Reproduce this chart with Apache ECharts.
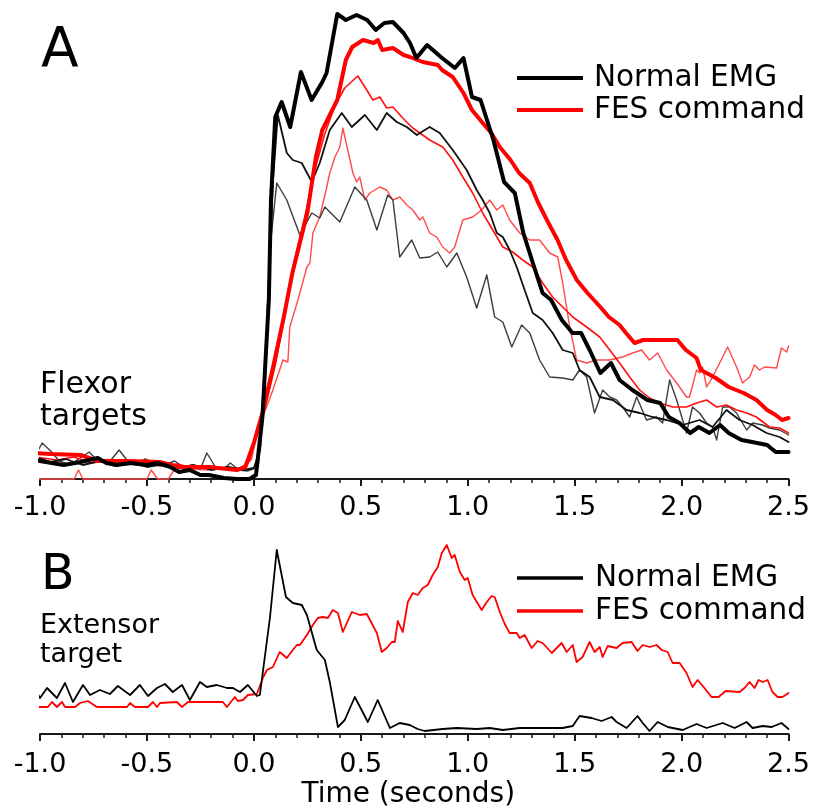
<!DOCTYPE html>
<html>
<head>
<meta charset="utf-8">
<script src="https://cdn.jsdelivr.net/npm/echarts@6/dist/echarts.min.js"></script>
<style>
html,body{margin:0;padding:0;background:#fff;}
#chart{width:813px;height:811px;}
</style>
</head>
<body>
<div id="chart"></div>
<script>
// ---------- DATA (time in seconds, amplitude in arbitrary units) ----------
const timeTicks = [-1.0, -0.5, 0.0, 0.5, 1.0, 1.5, 2.0, 2.5];

// Panel A – flexor targets
const flexNormalMean = [[-1.02,19],[-1.00,18],[-0.89,14],[-0.81,17],[-0.73,21],[-0.69,16],[-0.64,14],[-0.58,16],[-0.50,14],[-0.45,16],[-0.39,12],[-0.35,7],[-0.30,9],[-0.25,4],[-0.21,4],[-0.14,1],[-0.08,0],[-0.02,0],[0.01,4],[0.04,62],[0.07,179],[0.08,279],[0.10,362],[0.13,377],[0.17,352],[0.22,407],[0.27,379],[0.32,397],[0.34,406],[0.39,465],[0.43,459],[0.48,464],[0.53,459],[0.57,449],[0.61,456],[0.65,457],[0.70,446],[0.73,436],[0.76,421],[0.81,434],[0.88,421],[0.94,411],[0.98,421],[1.02,382],[1.06,379],[1.12,339],[1.17,297],[1.22,286],[1.26,246],[1.30,219],[1.35,186],[1.39,179],[1.44,159],[1.49,146],[1.53,146],[1.57,129],[1.62,106],[1.67,116],[1.71,99],[1.77,89],[1.84,79],[1.90,76],[1.94,62],[1.99,56],[2.04,46],[2.08,52],[2.13,46],[2.18,54],[2.22,46],[2.28,39],[2.33,37],[2.40,34],[2.44,27],[2.50,27]];
const flexFesMean = [[-1.02,26],[-0.95,25],[-0.81,24],[-0.73,18],[-0.58,18],[-0.44,17],[-0.35,12],[-0.21,12],[-0.08,9],[-0.04,12],[0.00,36],[0.04,66],[0.09,112],[0.14,162],[0.18,206],[0.25,266],[0.29,322],[0.32,349],[0.39,379],[0.43,419],[0.46,432],[0.51,439],[0.56,436],[0.58,439],[0.60,429],[0.65,431],[0.70,424],[0.73,422],[0.79,417],[0.86,414],[0.88,409],[0.93,402],[0.98,386],[1.02,369],[1.07,356],[1.11,346],[1.15,332],[1.20,319],[1.24,306],[1.29,296],[1.33,276],[1.37,259],[1.42,239],[1.46,219],[1.51,199],[1.56,186],[1.62,172],[1.66,162],[1.71,154],[1.74,146],[1.78,136],[1.82,139],[1.88,139],[1.98,139],[2.02,129],[2.07,121],[2.09,109],[2.16,101],[2.22,92],[2.29,86],[2.35,79],[2.40,69],[2.44,64],[2.47,59],[2.50,61]];
const flexNormalTrial1 = [[-1.02,22],[-0.95,17],[-0.88,20],[-0.80,14],[-0.72,18],[-0.65,13],[-0.58,17],[-0.50,12],[-0.42,15],[-0.35,11],[-0.28,14],[-0.20,9],[-0.12,12],[-0.05,9],[0.00,11],[0.03,30],[0.06,150],[0.09,300],[0.112,364],[0.154,326],[0.182,319],[0.224,316],[0.271,297],[0.308,316],[0.355,349],[0.411,366],[0.458,352],[0.519,364],[0.575,349],[0.621,366],[0.668,357],[0.715,352],[0.762,344],[0.822,352],[0.869,346],[0.930,329],[0.995,309],[1.042,289],[1.070,279],[1.103,266],[1.136,246],[1.164,242],[1.196,229],[1.229,212],[1.266,189],[1.304,166],[1.350,159],[1.397,146],[1.444,129],[1.491,126],[1.523,109],[1.570,102],[1.617,82],[1.678,79],[1.743,69],[1.804,66],[1.864,62],[1.930,59],[2.005,54],[2.084,59],[2.145,52],[2.210,69],[2.271,59],[2.332,54],[2.397,46],[2.458,42],[2.50,37]];
const flexNormalTrial2 = [[-1.02,24],[-0.99,36],[-0.95,28],[-0.91,18],[-0.86,14],[-0.82,20],[-0.77,27],[-0.73,18],[-0.68,16],[-0.63,29],[-0.59,18],[-0.55,14],[-0.51,20],[-0.46,16],[-0.42,14],[-0.37,18],[-0.33,12],[-0.29,14],[-0.25,10],[-0.22,26],[-0.18,12],[-0.14,10],[-0.11,16],[-0.07,9],[-0.03,8],[0.02,12],[0.05,80],[0.08,240],[0.107,296],[0.154,279],[0.215,244],[0.271,266],[0.308,261],[0.332,272],[0.402,257],[0.472,292],[0.528,279],[0.575,249],[0.626,284],[0.650,279],[0.682,222],[0.738,239],[0.776,221],[0.822,222],[0.860,227],[0.902,212],[0.949,226],[0.995,202],[1.042,171],[1.089,204],[1.126,162],[1.164,157],[1.206,132],[1.252,154],[1.290,146],[1.336,119],[1.383,102],[1.444,101],[1.491,99],[1.523,109],[1.556,102],[1.593,66],[1.631,89],[1.664,82],[1.696,79],[1.724,72],[1.757,62],[1.790,82],[1.836,59],[1.883,62],[1.911,56],[1.944,99],[1.977,79],[2.023,46],[2.051,72],[2.084,66],[2.117,56],[2.145,52],[2.164,39],[2.192,72],[2.224,72],[2.257,66],[2.304,49],[2.332,56],[2.379,54],[2.411,51],[2.458,49],[2.50,44]];
const flexFesTrial1 = [[-1.02,22],[-0.92,19],[-0.84,22],[-0.76,16],[-0.68,19],[-0.60,14],[-0.52,17],[-0.44,13],[-0.36,15],[-0.28,11],[-0.20,13],[-0.12,10],[-0.06,11],[-0.02,18],[0.005,39],[0.05,69],[0.10,114],[0.145,164],[0.19,219],[0.24,264],[0.285,309],[0.33,344],[0.38,374],[0.425,391],[0.486,403],[0.528,389],[0.556,379],[0.589,382],[0.621,371],[0.650,372],[0.696,361],[0.743,351],[0.822,339],[0.883,332],[0.930,319],[0.977,302],[1.023,286],[1.070,266],[1.117,249],[1.164,232],[1.210,227],[1.257,219],[1.304,212],[1.350,196],[1.397,182],[1.444,172],[1.491,162],[1.556,152],[1.617,142],[1.664,129],[1.710,116],[1.757,102],[1.804,89],[1.850,81],[1.897,76],[1.958,72],[2.023,72],[2.070,76],[2.117,79],[2.164,72],[2.210,74],[2.257,69],[2.304,66],[2.350,62],[2.411,52],[2.458,51],[2.50,46]];
const flexFesTrial2 = [[-1.02,0],[-0.84,0],[-0.82,9],[-0.80,0],[-0.50,0],[-0.48,9],[-0.45,0],[-0.40,0],[-0.37,10],[-0.34,8],[-0.28,10],[-0.22,9],[-0.16,11],[-0.10,9],[-0.05,11],[-0.01,20],[0.014,46],[0.089,89],[0.136,119],[0.159,117],[0.168,152],[0.206,179],[0.248,212],[0.262,216],[0.276,246],[0.308,262],[0.341,292],[0.355,306],[0.379,322],[0.402,332],[0.416,351],[0.439,329],[0.463,306],[0.481,297],[0.495,302],[0.519,279],[0.542,286],[0.589,292],[0.621,289],[0.650,279],[0.682,282],[0.715,274],[0.743,269],[0.776,259],[0.790,262],[0.822,246],[0.855,242],[0.883,232],[0.916,226],[0.939,232],[0.977,259],[1.023,262],[1.065,269],[1.103,279],[1.136,269],[1.164,274],[1.196,259],[1.243,246],[1.290,239],[1.336,239],[1.383,226],[1.421,222],[1.444,196],[1.477,152],[1.509,119],[1.556,116],[1.603,119],[1.664,119],[1.724,122],[1.771,126],[1.813,129],[1.850,119],[1.888,126],[1.930,109],[1.977,96],[2.023,82],[2.037,82],[2.070,109],[2.084,106],[2.098,112],[2.117,92],[2.145,102],[2.178,116],[2.215,132],[2.257,112],[2.285,96],[2.318,102],[2.341,114],[2.364,109],[2.388,112],[2.444,111],[2.467,131],[2.491,127],[2.50,133]];

// Panel B – extensor target
const extNormal = [[-1.02,44],[-1.00,36],[-0.967,46],[-0.921,36],[-0.883,51],[-0.846,32],[-0.799,49],[-0.766,39],[-0.720,44],[-0.673,40],[-0.636,48],[-0.579,39],[-0.533,49],[-0.495,38],[-0.453,46],[-0.416,50],[-0.379,42],[-0.336,49],[-0.299,34],[-0.252,52],[-0.220,47],[-0.173,49],[-0.126,46],[-0.098,46],[-0.065,42],[-0.028,49],[0.014,38],[0.028,39],[0.075,116],[0.107,184],[0.150,137],[0.182,131],[0.224,129],[0.248,119],[0.294,84],[0.332,74],[0.355,52],[0.393,7],[0.425,14],[0.472,37],[0.533,12],[0.579,34],[0.636,6],[0.682,11],[0.729,9],[0.766,5],[0.799,3],[0.883,5],[0.949,6],[1.042,5],[1.103,6],[1.164,4],[1.243,6],[1.383,6],[1.444,6],[1.491,8],[1.523,18],[1.579,16],[1.626,13],[1.673,17],[1.696,12],[1.743,6],[1.794,18],[1.818,11],[1.850,3],[1.888,12],[1.935,7],[2.005,4],[2.070,10],[2.117,6],[2.192,11],[2.248,6],[2.304,12],[2.332,6],[2.379,8],[2.421,7],[2.467,11],[2.50,5]];
const extFes = [[-1.02,27],[-0.963,27],[-0.944,32],[-0.921,27],[-0.897,32],[-0.883,27],[-0.836,27],[-0.813,31],[-0.776,33],[-0.734,27],[-0.593,27],[-0.579,31],[-0.556,27],[-0.495,27],[-0.472,32],[-0.453,27],[-0.439,31],[-0.360,32],[-0.336,27],[-0.308,32],[-0.145,32],[-0.126,27],[-0.089,37],[-0.075,33],[-0.051,34],[-0.028,39],[0.014,40],[0.042,56],[0.061,64],[0.089,67],[0.121,82],[0.154,76],[0.182,84],[0.201,89],[0.215,89],[0.248,99],[0.276,109],[0.299,116],[0.322,117],[0.346,116],[0.369,124],[0.393,121],[0.416,102],[0.458,122],[0.495,119],[0.528,120],[0.575,101],[0.598,82],[0.621,86],[0.645,92],[0.659,92],[0.673,113],[0.696,102],[0.720,132],[0.743,141],[0.766,139],[0.790,146],[0.813,149],[0.836,159],[0.860,167],[0.879,181],[0.902,189],[0.925,176],[0.939,179],[0.963,162],[0.986,154],[1.000,156],[1.023,139],[1.065,124],[1.089,132],[1.112,138],[1.126,137],[1.150,122],[1.173,110],[1.196,101],[1.229,101],[1.243,96],[1.266,99],[1.299,86],[1.327,93],[1.350,91],[1.393,81],[1.439,91],[1.463,82],[1.491,89],[1.509,72],[1.537,77],[1.570,92],[1.593,82],[1.617,87],[1.631,77],[1.654,88],[1.696,86],[1.724,91],[1.766,92],[1.794,83],[1.818,89],[1.850,87],[1.883,89],[1.907,84],[1.935,82],[1.958,71],[1.991,71],[2.023,61],[2.051,47],[2.075,54],[2.103,47],[2.140,37],[2.173,37],[2.206,43],[2.271,42],[2.294,46],[2.318,52],[2.341,46],[2.360,54],[2.379,52],[2.402,54],[2.425,42],[2.449,37],[2.472,37],[2.50,41]];

const legendNames = ['Normal EMG', 'FES command'];

// ---------- CHART ----------
const FONT = '"DejaVu Sans", "Liberation Sans", sans-serif';
const chart = echarts.init(document.getElementById('chart'), null, {renderer: 'canvas'});

function xAxisCfg(gridIndex, margin, withName) {
  const cfg = {
    type: 'value', gridIndex: gridIndex,
    min: timeTicks[0], max: timeTicks[timeTicks.length - 1], interval: 0.5,
    axisLine: {show: true, onZero: false, lineStyle: {color: '#1a1a1a', width: 2}},
    axisTick: {show: true, length: 7, inside: false, lineStyle: {color: '#1a1a1a', width: 2}},
    minorTick: {show: true, splitNumber: 5, length: 4, lineStyle: {color: '#1a1a1a', width: 1.5}},
    splitLine: {show: false},
    axisLabel: {margin: margin, fontSize: 27, fontFamily: FONT, color: '#000',
      formatter: v => v.toFixed(1)}
  };
  if (withName) {
    cfg.name = 'Time (seconds)';
    cfg.nameLocation = 'middle';
    cfg.nameGap = 47;
    cfg.nameTextStyle = {fontSize: 28, fontFamily: FONT, color: '#000', padding: [0, 12, 0, 0]};
  }
  return cfg;
}

function line(name, data, xi, color, width, z) {
  return {
    type: 'line', name: name, data: data, xAxisIndex: xi, yAxisIndex: xi,
    showSymbol: false, symbol: 'none', clip: false, smooth: false, z: z,
    lineStyle: {color: color, width: width, join: 'round', cap: 'round'},
    itemStyle: {color: color},
    emphasis: {disabled: true}, silent: true, animation: false
  };
}

const legendText = {fontSize: 29.5, fontFamily: FONT, color: '#000', lineHeight: 26};

const option = {
  backgroundColor: '#fff',
  animation: false,
  grid: [
    {left: 40, right: 24, top: 10, bottom: 332},
    {left: 40, right: 24, top: 534, bottom: 77}
  ],
  xAxis: [xAxisCfg(0, 15, false), xAxisCfg(1, 17, true)],
  yAxis: [
    {type: 'value', gridIndex: 0, min: 0, max: 469, show: false},
    {type: 'value', gridIndex: 1, min: 0, max: 200, show: false}
  ],
  legend: [
    {
      orient: 'vertical', left: 517, top: 62, padding: 0, itemGap: 0,
      itemWidth: 66, itemHeight: 4, selectedMode: false, icon: 'rect',
      textStyle: Object.assign({padding: [6, 0, 0, 6]}, legendText),
      data: [
        {name: legendNames[0], icon: 'rect', itemStyle: {color: '#000'}},
        {name: legendNames[1], icon: 'rect', itemStyle: {color: '#ff0000'}}
      ]
    },
    {
      orient: 'vertical', left: 517, top: 562, padding: 0, itemGap: 1,
      itemWidth: 66, itemHeight: 3.5, selectedMode: false, icon: 'rect',
      textStyle: Object.assign({padding: [6, 0, 0, 7]}, legendText),
      data: [
        {name: legendNames[0], icon: 'rect', itemStyle: {color: '#000'}},
        {name: legendNames[1], icon: 'rect', itemStyle: {color: '#ff0000'}}
      ]
    }
  ],
  graphic: [
    {type: 'text', left: 41, top: 24, style: {text: 'A', fontSize: 55, fontFamily: FONT, fill: '#000'}},
    {type: 'text', left: 40, top: 369, style: {text: 'Flexor\ntargets', fontSize: 30, lineHeight: 32, fontFamily: FONT, fill: '#000'}},
    {type: 'text', left: 41, top: 552, style: {text: 'B', fontSize: 49, fontFamily: FONT, fill: '#000'}},
    {type: 'text', left: 40, top: 611, style: {text: 'Extensor\ntarget', fontSize: 27, lineHeight: 29, fontFamily: FONT, fill: '#000'}}
  ],
  series: [
    line('FES trial 2', flexFesTrial2, 0, '#ff4a4a', 1.4, 2),
    line('Normal trial 2', flexNormalTrial2, 0, '#3c3c3c', 1.4, 2),
    line('FES trial 1', flexFesTrial1, 0, '#ff1010', 1.6, 3),
    line('Normal trial 1', flexNormalTrial1, 0, '#111111', 1.8, 3),
    line(legendNames[1], flexFesMean, 0, '#ff0000', 4, 4),
    line(legendNames[0], flexNormalMean, 0, '#000000', 4, 5),
    line(legendNames[1], extFes, 1, '#ff0000', 1.8, 4),
    line(legendNames[0], extNormal, 1, '#000000', 1.8, 5)
  ]
};
chart.setOption(option);
</script>
</body>
</html>
